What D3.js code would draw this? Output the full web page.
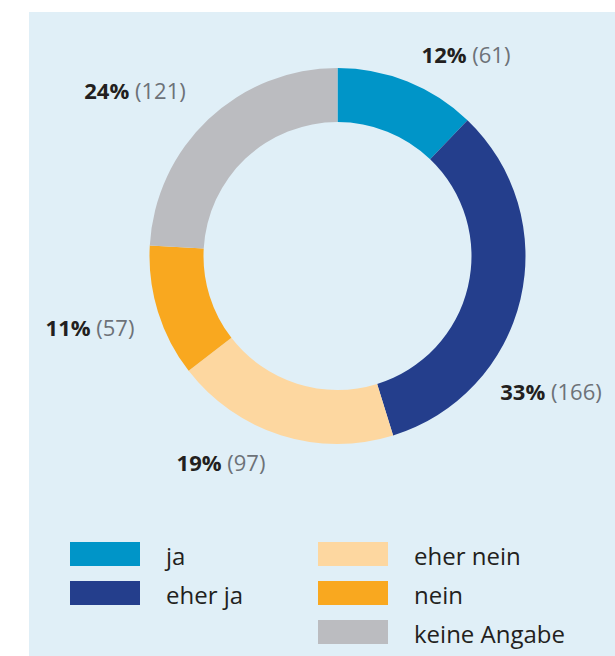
<!DOCTYPE html>
<html>
<head>
<meta charset="utf-8">
<script src="https://cdn.jsdelivr.net/npm/d3@7"></script>
<style>
  body { margin: 0; background: #fff; }
  svg { display: block; font-family: "Open Sans", sans-serif; }
</style>
</head>
<body>
<script>
var categories = ['ja', 'eher ja', 'eher nein', 'nein', 'keine Angabe'];
var counts = [61, 166, 97, 57, 121];
var percents = ['12%', '33%', '19%', '11%', '24%'];
var colors = ['#0095c8', '#243e8c', '#fdd7a0', '#f9a81f', '#bbbcc0'];

// label spots (centre x, baseline y), set by hand like the original
var labelSpots = {
  'ja': [466, 63],
  'eher ja': [551, 400],
  'eher nein': [221, 471],
  'nein': [90, 336],
  'keine Angabe': [135, 99]
};

var width = 615,
    height = 656;
var cx = 337.5, cy = 256,
    outerR = 188, innerR = 134;

var svg = d3.select('body')
  .append('svg')
  .attr('width', width)
  .attr('height', height);

svg.append('rect')
  .attr('x', 29)
  .attr('y', 12)
  .attr('width', width - 29)
  .attr('height', height - 12)
  .attr('fill', '#e0eff7');

var data = categories.map(function(c, i) {
  return { cat: c, n: counts[i], pct: percents[i], color: colors[i] };
});

var pie = d3.pie()
  .sort(null)
  .value(function(d) { return d.n; });

var arc = d3.arc()
  .innerRadius(innerR)
  .outerRadius(outerR);

var g = svg.append('g')
  .attr('transform', 'translate(' + cx + ',' + cy + ')');

g.selectAll('path')
  .data(pie(data))
  .enter()
  .append('path')
  .attr('d', arc)
  .attr('fill', function(d) { return d.data.color; });

var labels = svg.selectAll('text.lbl')
  .data(data)
  .enter()
  .append('text')
  .attr('class', 'lbl')
  .attr('x', function(d) { return labelSpots[d.cat][0]; })
  .attr('y', function(d) { return labelSpots[d.cat][1]; })
  .attr('text-anchor', 'middle')
  .style('font-size', '22px');

labels.append('tspan')
  .attr('font-weight', 'bold')
  .attr('fill', '#231f20')
  .text(function(d) { return d.pct; });

labels.append('tspan')
  .attr('fill', '#6d7278')
  .text(function(d) { return ' (' + d.n + ')'; });

// legend, two columns
var legendCols = [[0, 1], [2, 3, 4]];
var colX = [70, 318];
var rowY = 542, rowStep = 39;

legendCols.forEach(function(col, ci) {
  col.forEach(function(idx, ri) {
    var y = rowY + ri * rowStep;
    svg.append('rect')
      .attr('x', colX[ci])
      .attr('y', y)
      .attr('width', 70)
      .attr('height', 24)
      .attr('fill', colors[idx]);
    svg.append('text')
      .attr('x', colX[ci] + 96)
      .attr('y', y + 23)
      .attr('fill', '#231f20')
      .style('font-size', '24px')
      .text(categories[idx]);
  });
});
</script>
</body>
</html>
